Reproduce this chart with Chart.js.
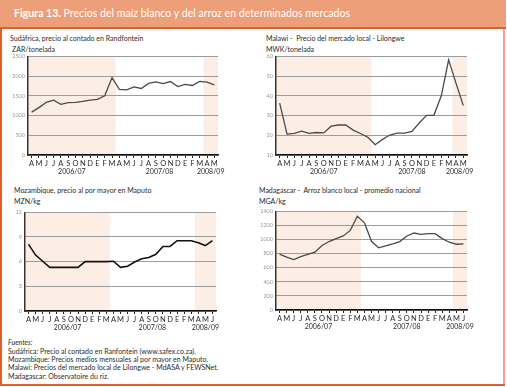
<!DOCTYPE html>
<html>
<head>
<meta charset="utf-8">
<script src="https://cdn.jsdelivr.net/npm/chart.js@4.4.1/dist/chart.umd.min.js"></script>
<style>
    body { margin: 0; background: #fff; font-family: Lato, "Open Sans", sans-serif; }
    #page { position: relative; width: 507px; height: 387px; overflow: hidden; }
    .box { position: absolute; }
    .t { position: absolute; white-space: nowrap; color: #2b2b2b; font-size: 7px; line-height: 9px; }
    canvas { position: absolute; }
</style>
</head>
<body>
<div id="page">
    <div class="box" style="left:0;top:0;width:506px;height:28px;background:#EC9F78"></div>
    <div class="box" style="left:0;top:27px;width:506px;height:2px;background:#E0602B"></div>
    <div class="box" style="left:0;top:29px;width:2px;height:357px;background:#E0602B"></div>
    <div class="box" style="left:503px;top:29px;width:2px;height:357px;background:#EDA488"></div>
    <div class="box" style="left:0;top:384px;width:505px;height:2px;background:#E0602B"></div>

    <div class="t" style="left:14px;top:7px;font-size:10.6px;line-height:12px;color:#fff"><b>Figura 13.</b> Precios del maíz blanco y del arroz en determinados mercados</div>

    <div class="t" style="left:10px;top:34px">Sudáfrica, precio al contado en Randfontein</div>
    <div class="t" style="left:12px;top:45px">ZAR/tonelada</div>
    <div class="t" style="left:266px;top:34px">Malawi -&nbsp; Precio del mercado local - Lilongwe</div>
    <div class="t" style="left:266px;top:45px">MWK/tonelada</div>
    <div class="t" style="left:14px;top:186px">Mozambique, precio al por mayor en Maputo</div>
    <div class="t" style="left:14px;top:197px">MZN/kg</div>
    <div class="t" style="left:259px;top:186px">Madagascar -&nbsp; Arroz blanco local - promedio nacional</div>
    <div class="t" style="left:259px;top:197px">MGA/kg</div>

    <div class="t" style="left:8px;top:338px;font-style:italic">Fuentes:</div>
    <div class="t" style="left:8px;top:347px">Sudáfrica: Precio al contado en Ranfontein (www.safex.co.za).</div>
    <div class="t" style="left:8px;top:355px">Mozambique: Precios medios mensuales al por mayor en Maputo.</div>
    <div class="t" style="left:8px;top:363px">Malawi: Precios del mercado local de Lilongwe - MdASA y FEWSNet.</div>
    <div class="t" style="left:8px;top:372px">Madagascar: Observatoire du riz.</div>

    <canvas id="c1" width="225" height="128" style="left:5px;top:50px"></canvas>
    <canvas id="c2" width="224" height="128" style="left:255px;top:50px"></canvas>
    <canvas id="c3" width="223" height="128" style="left:5px;top:206px"></canvas>
    <canvas id="c4" width="224" height="128" style="left:255px;top:205px"></canvas>
</div>
<script>
// month initials, April 2006 onwards (E = enero)
var months26 = ['A','M','J','J','A','S','O','N','D','E','F','M','A','M','J','J','A','S','O','N','D','E','F','M','A','M'];
var months27 = months26.concat(['J']);
var years = ['2006/07', '2007/08', '2008/09'];

// Sudáfrica, ZAR/tonelada
var zaPrices = [1085, 1200, 1335, 1390, 1285, 1325, 1335, 1360, 1390, 1410, 1500, 1960, 1660, 1650, 1725, 1685, 1815, 1850, 1810, 1860, 1735, 1790, 1760, 1865, 1845, 1775];
var zaSeasons = [[0, 11], [12, 23], [24, 25]];

// Malawi, MWK/tonelada
var mwPrices = [36.3, 20.6, 21.0, 22.1, 21.0, 21.4, 21.2, 24.6, 25.2, 25.2, 22.6, 20.9, 19.0, 15.2, 17.9, 20.1, 21.1, 21.1, 22.0, 26.2, 30.1, 30.1, 40.0, 58.2, 46.4, 35.0];
var mwSeasons = [[0, 12], [13, 23], [24, 25]];

// Mozambique, MZN/kg
var mzPrices = [8.1, 6.8, 6.05, 5.3, 5.3, 5.3, 5.3, 5.3, 6.0, 6.0, 6.0, 6.0, 6.05, 5.3, 5.45, 5.95, 6.35, 6.5, 6.9, 7.85, 7.85, 8.55, 8.55, 8.55, 8.3, 7.95, 8.55];
var mzSeasons = [[0, 11], [12, 23], [24, 26]];

// Madagascar, MGA/kg
var mgPrices = [793, 751, 714, 756, 789, 821, 915, 971, 1013, 1050, 1129, 1330, 1237, 975, 882, 910, 938, 971, 1050, 1092, 1073, 1083, 1083, 1013, 961, 933, 938];
var mgSeasons = [[0, 11], [12, 24], [25, 26]];

var seasonPlugin = {
    id: 'seasons',
    beforeDraw: function (chart, args, opts) {
        var a = chart.chartArea, x = chart.scales.x, ctx = chart.ctx;
        ctx.save();
        ctx.fillStyle = '#FCEEE4';
        opts.seasons.forEach(function (s, i) {
            if (i % 2) return;
            var l = Math.max(a.left, x.getPixelForValue(s[0] - 0.5));
            var r = Math.min(a.right, x.getPixelForValue(s[1] + 0.5));
            ctx.fillRect(l, a.top, r - l, a.bottom - a.top);
        });
        ctx.restore();
    },
    afterDraw: function (chart, args, opts) {
        var a = chart.chartArea, x = chart.scales.x, ctx = chart.ctx;
        ctx.save();
        ctx.font = '7px Lato';
        ctx.fillStyle = '#2b2b2b';
        ctx.textAlign = 'center';
        ctx.textBaseline = 'middle';
        opts.seasons.forEach(function (s, i) {
            ctx.fillText(opts.years[i], x.getPixelForValue((s[0] + s[1]) / 2), a.bottom + 16.5);
        });
        ctx.restore();
    }
};

function makeChart(id, labels, values, seasons, yMin, yMax, yStep, yWidth, lineColor, lineWidth) {
    return new Chart(document.getElementById(id), {
        type: 'line',
        data: {
            labels: labels,
            datasets: [{
                data: values,
                borderColor: lineColor,
                borderWidth: lineWidth,
                pointRadius: 0,
                tension: 0,
                fill: false
            }]
        },
        options: {
            responsive: false,
            animation: false,
            layout: {padding: {top: 5, right: 12, left: 0, bottom: 0}},
            plugins: {
                legend: {display: false},
                tooltip: {enabled: false},
                seasons: {seasons: seasons, years: years}
            },
            scales: {
                x: {
                    type: 'category',
                    offset: true,
                    afterFit: function (s) { s.height = 23; },
                    grid: {drawOnChartArea: false, drawTicks: true, tickLength: 3, tickColor: '#222', offset: false},
                    border: {color: '#111', width: 1.5},
                    ticks: {autoSkip: false, maxRotation: 0, padding: 1, color: '#2b2b2b', font: {size: 7.5, family: 'Lato'}}
                },
                y: {
                    min: yMin,
                    max: yMax,
                    afterFit: function (s) { s.width = yWidth; },
                    grid: {color: '#9c9c9c', drawTicks: false},
                    border: {color: '#333', width: 1.5},
                    ticks: {
                        stepSize: yStep, padding: 3, color: '#999', font: {size: 5.5, family: 'Lato'},
                        callback: function (v) { return String(v); }
                    }
                }
            }
        },
        plugins: [seasonPlugin]
    });
}

makeChart('c1', months26, zaPrices, zaSeasons, 0, 2500, 500, 23, '#4a4a4a', 1.3);
makeChart('c2', months26, mwPrices, mwSeasons, 10, 60, 10, 21, '#4a4a4a', 1.3);
makeChart('c3', months27, mzPrices, mzSeasons, 0, 12, 3, 20, '#111', 1.6);
makeChart('c4', months27, mgPrices, mgSeasons, 0, 1400, 200, 21, '#4a4a4a', 1.3);
</script>
</body>
</html>
